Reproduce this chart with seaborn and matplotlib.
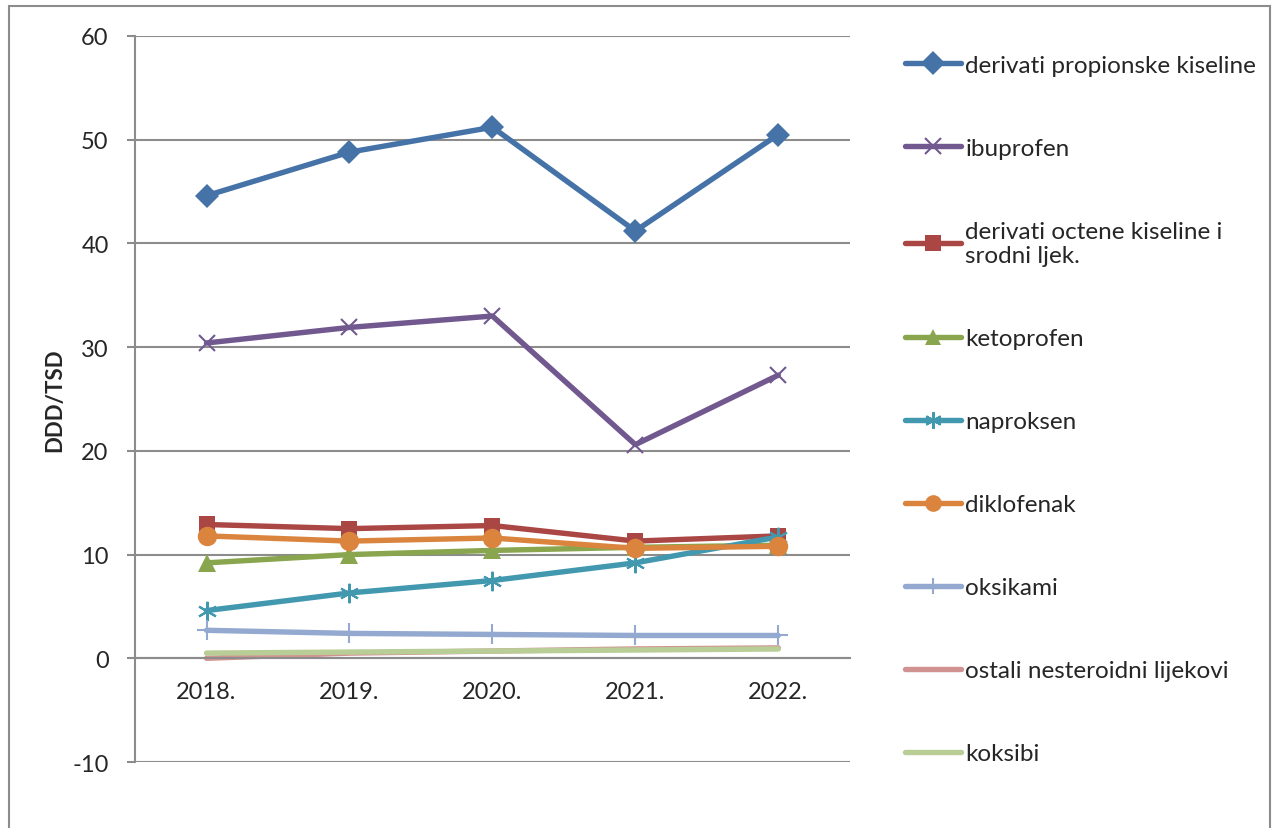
import matplotlib
matplotlib.use("Agg")
import matplotlib.pyplot as plt
from matplotlib.patches import Rectangle
import seaborn as sns

# DDD/TSD by year
years = ["2018.", "2019.", "2020.", "2021.", "2022."]

propionske = [44.6, 48.8, 51.2, 41.2, 50.5]
ibuprofen = [30.4, 31.9, 33.0, 20.6, 27.3]
octene = [12.9, 12.5, 12.8, 11.3, 11.8]
ketoprofen = [9.2, 10.0, 10.4, 10.7, 10.9]
naproksen = [4.6, 6.3, 7.5, 9.2, 11.7]
diklofenak = [11.8, 11.3, 11.6, 10.6, 10.8]
oksikami = [2.7, 2.4, 2.3, 2.2, 2.2]
ostali = [0.0, 0.5, 0.7, 0.9, 1.0]
koksibi = [0.5, 0.6, 0.7, 0.8, 0.9]

series = [
    ("derivati propionske kiseline", propionske, "#4572A7", "D", 12),
    ("ibuprofen", ibuprofen, "#71588F", "x", 12),
    ("derivati octene kiseline i\nsrodni ljek.", octene, "#AA4643", "s", 12),
    ("ketoprofen", ketoprofen, "#89A54E", "^", 13),
    ("naproksen", naproksen, "#4198AF", (6, 2, 0), 14),
    ("diklofenak", diklofenak, "#DB843D", "o", 14),
    ("oksikami", oksikami, "#93A9CF", "+", 14),
    ("ostali nesteroidni lijekovi", ostali, "#D19392", None, 0),
    ("koksibi", koksibi, "#B9CD96", None, 0),
]

sns.set_style("white")
plt.rcParams["font.family"] = ["Lato", "DejaVu Sans"]
plt.rcParams["axes.unicode_minus"] = False

fig = plt.figure(figsize=(12.74, 8.29), dpi=100)
ax = fig.add_axes([0.106, 0.0796, 0.561, 0.8758])

xs = list(range(len(years)))
for label, vals, color, marker, msize in series:
    filled = marker in ("D", "s", "^", "o")
    sns.lineplot(x=xs, y=vals, ax=ax, color=color, linewidth=3.9,
                 marker=marker, markersize=msize, markeredgecolor=color,
                 markeredgewidth=0 if filled else 1.5,
                 label=label, legend=False)

ax.set_xlim(-0.5, 4.5)
ax.set_ylim(-10, 60)
ax.set_yticks(range(-10, 61, 10))
ax.yaxis.grid(True, color="#8c8c8c", linewidth=1.5)
ax.xaxis.grid(False)
ax.set_axisbelow(True)

for s in ("top", "right"):
    ax.spines[s].set_visible(False)
ax.spines["bottom"].set_position(("data", 0))
ax.spines["bottom"].set_color("#8c8c8c")
ax.spines["bottom"].set_linewidth(1.5)
ax.spines["left"].set_color("#8c8c8c")
ax.spines["left"].set_linewidth(1.5)

ax.set_xticks(xs)
ax.set_xticklabels(years)
ax.set_xticks([x + 0.5 for x in [-1] + xs], minor=True)
ax.tick_params(axis="x", which="major", length=0, pad=16, labelsize=17)
ax.tick_params(axis="x", which="minor", length=6, width=1.5, color="#8c8c8c",
               direction="out")
ax.tick_params(axis="y", length=6, width=1.5, color="#8c8c8c", labelsize=17,
               pad=13, left=True)

ax.set_ylabel("DDD/TSD", fontsize=16, fontweight="bold")
ax.yaxis.set_label_coords(-0.098, 0.5)
ax.set_xlabel("")

handles, labels = ax.get_legend_handles_labels()
leg = ax.legend(handles, labels, loc="upper left",
                bbox_to_anchor=(0.703, 0.9445), bbox_transform=fig.transFigure,
                frameon=False, fontsize=17.5, labelspacing=2.55,
                handlelength=2.3, handletextpad=0.16, borderaxespad=0)
for h in leg.legend_handles:
    h.set_markersize(12)

fig.add_artist(Rectangle((9 / 1274, -0.02), 1261 / 1274, 0.9916 + 0.02,
                         transform=fig.transFigure, fill=False,
                         edgecolor="#8c8c8c", linewidth=1.5))

fig.savefig("out.png", dpi=100)
